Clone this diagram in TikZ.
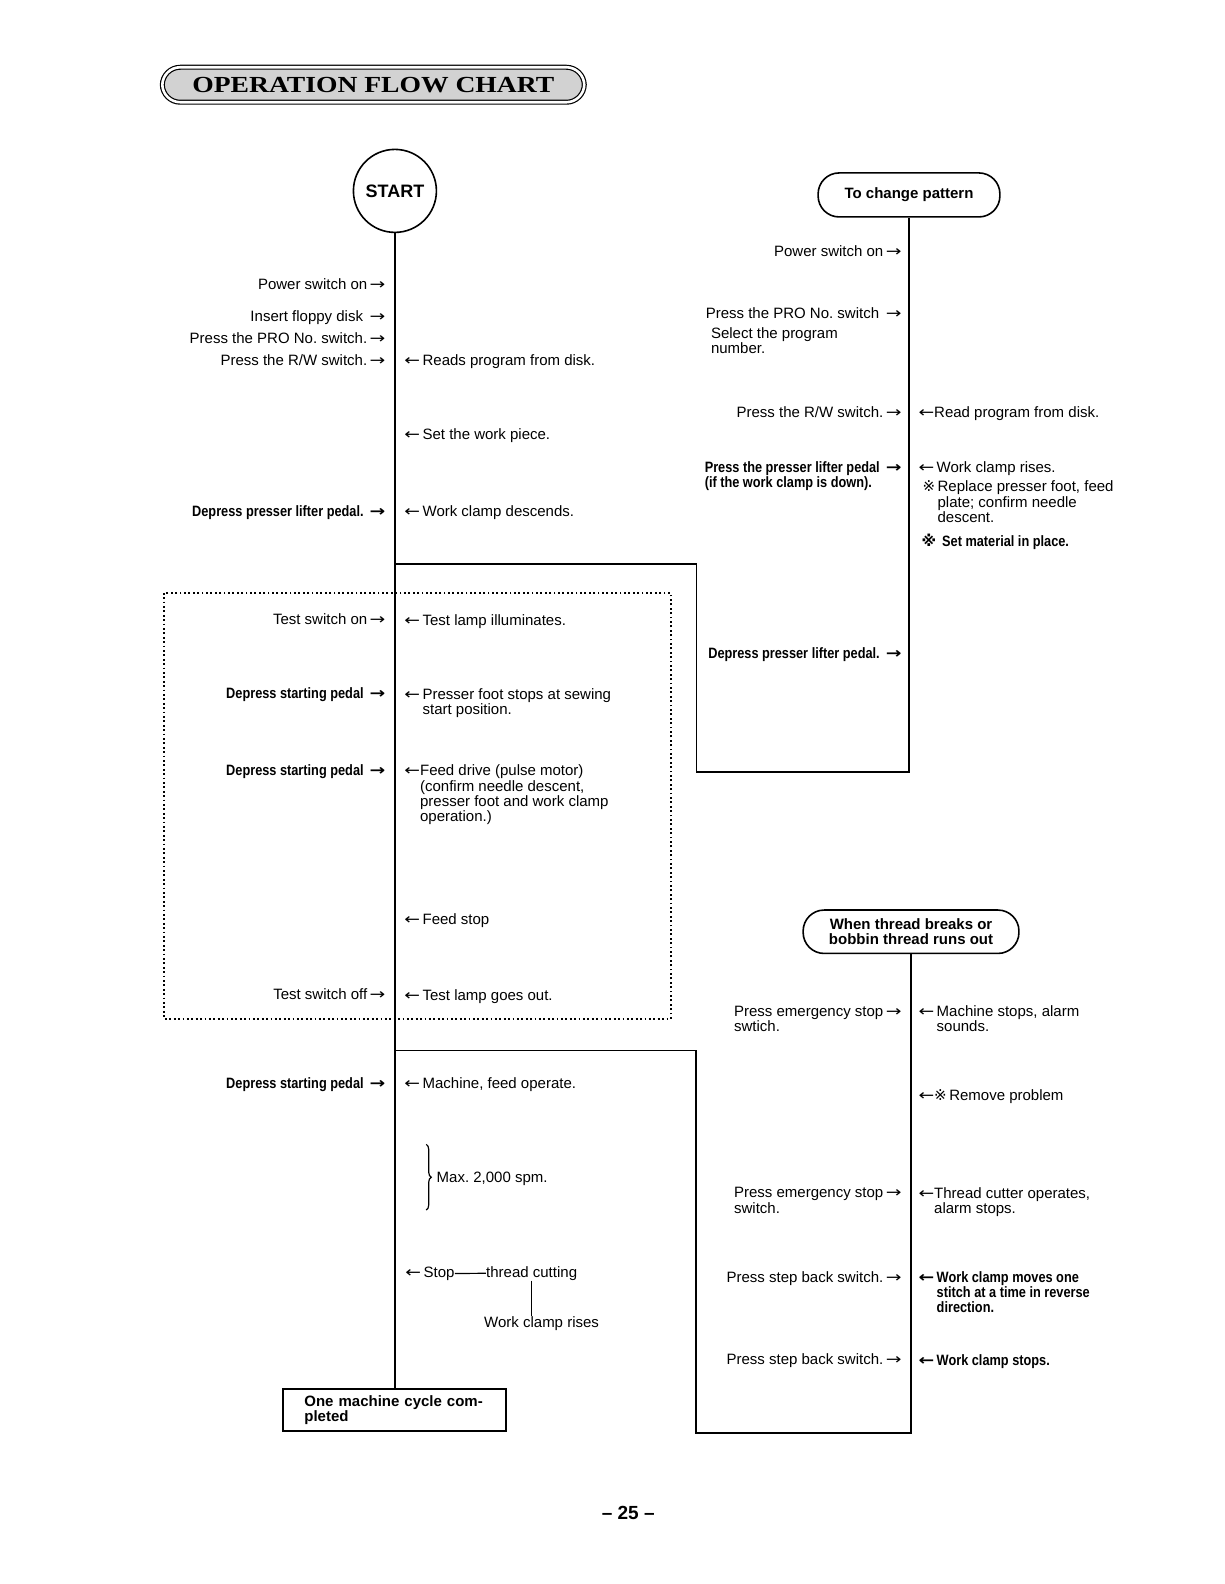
\documentclass[tikz,border=0pt]{standalone}
\usepackage{graphicx}
\usepackage{fontspec}
\setmainfont{Liberation Sans}
\newfontfamily\condfont[FakeStretch=0.85]{Liberation Sans}
\newfontfamily\symfont{DejaVu Sans}
\newfontfamily\titlefont[FakeStretch=1.2]{Liberation Serif}
\usetikzlibrary{decorations.pathreplacing}
\newcommand{\ra}{\,\scalebox{1.25}[1]{\symfont →}}
\newcommand{\la}{\scalebox{1.25}[1]{\symfont ←}\,}
\newcommand{\lat}{\scalebox{1.25}[1]{\symfont ←}}
\newcommand{\rmk}{{\symfont ※}\,}
\newcommand{\lines}[1]{\begin{tabular}[t]{@{}l@{}}#1\end{tabular}}
\begin{document}
\begin{tikzpicture}
            [
                x=0.505pt, y=-0.505pt,
                txt/.style={inner sep=0pt, font=\fontsize{7.5}{7.5}\selectfont},
                lft/.style={txt, anchor=base east},
                rgt/.style={txt, anchor=base west},
                cnd/.style={font=\fontsize{7.5}{7.5}\selectfont\condfont\bfseries},
                flow/.style={line width=0.9pt},
                stad/.style={draw, line width=0.8pt, rounded corners=10.5pt, align=center, font=\fontsize{7.5}{7.5}\selectfont\bfseries},
                ttlbox/.style={draw, line width=0.6pt, double, double distance=1.3pt, rounded corners=9pt, fill=gray!35, minimum width=211pt, minimum height=17.5pt, font=\titlefont\bfseries\fontsize{11.5}{12}\selectfont}
            ]
            \useasboundingbox (0,0) rectangle (1212,1568.3);
            % title
            \node[ttlbox] (ttl) at (369.6,83.9) {OPERATION FLOW CHART};
            % START and end of cycle
            \node[draw, circle, line width=0.8pt, minimum size=41.5pt, font=\fontsize{9}{9}\selectfont\bfseries] (start) at (391,189) {START};
            \node[draw, line width=0.8pt, minimum width=111.6pt, minimum height=21.2pt, text width=90pt, inner xsep=10.8pt, align=left, font=\fontsize{7.5}{7.5}\selectfont\bfseries] (done) at (390.5,1396) {One machine cycle com-\\pleted};
            \draw[flow] (start.south) -- (start.south |- done.north);
            % to change pattern
            \node[stad, minimum width=90.9pt, minimum height=22pt] (chg) at (900,193) {To change pattern};
            \coordinate (j1) at (391,558.7);
            \coordinate (k1) at (689.5,764);
            \draw[flow] (j1) -| (k1) -| (chg.south);
            % thread breaks
            \node[stad, minimum width=107.9pt, minimum height=21.7pt] (brk) at (902,922.5) {When thread breaks or\\bobbin thread runs out};
            \coordinate (j2) at (391,1040);
            \coordinate (k2) at (689,1419);
            \draw[flow] (j2) -| (k2) -| (brk.south);
            % test run
            \draw[dash pattern=on 0.9pt off 1.3pt, line width=0.9pt] (162.7,587) rectangle (664,1009);
            % left column
            \node[lft] (pwr) at (382,287) {Power switch on\ra};
            \node[lft] (flp) at (382,318.5) {Insert floppy disk\ \ra};
            \node[lft] (pro) at (382,340.5) {Press the PRO No.\ switch.\ra};
            \node[lft] (rw) at (382,361.4) {Press the R/W switch.\ra};
            \node[lft, cnd] (lift) at (382,511) {Depress presser lifter pedal.\ \ra};
            \node[lft] (tson) at (382,618) {Test switch on\ra};
            \node[lft, cnd] (sp1) at (382,692) {Depress starting pedal\ \ra};
            \node[lft, cnd] (sp2) at (382,768) {Depress starting pedal\ \ra};
            \node[lft] (tsoff) at (382,990) {Test switch off\ra};
            \node[lft, cnd] (sp3) at (382,1078) {Depress starting pedal\ \ra};
            % main results
            \node[rgt] (rd) at (400,361.4) {\la Reads program from disk.};
            \node[rgt] (set) at (400,435.5) {\la Set the work piece.};
            \node[rgt] (dsc) at (400,511) {\la Work clamp descends.};
            \node[rgt] (lamp) at (400,619) {\la Test lamp illuminates.};
            \node[rgt] (pf) at (400,692.5) {\la\lines{Presser foot stops at sewing\\start position.}};
            \node[rgt] (fd) at (400,768) {\lat\lines{Feed drive (pulse motor)\\(confirm needle descent,\\presser foot and work clamp\\operation.)}};
            \node[rgt] (fs) at (400,915.5) {\la Feed stop};
            \node[rgt] (out) at (400,991) {\la Test lamp goes out.};
            \node[rgt] (run) at (400,1078) {\la Machine, feed operate.};
            \draw[line width=0.6pt, decorate, decoration={brace, amplitude=2.5pt}] (422,1133) -- (422,1198);
            \node[rgt] (max) at (432,1171) {Max.\ 2,000 spm.};
            \node[rgt] (stop) at (401,1264.5) {\la Stop};
            \node[rgt] (cut) at (481,1264.5) {thread cutting};
            \node[rgt] (wcr) at (479,1314.5) {Work clamp rises};
            \draw[line width=0.6pt] (stop.east) -- (cut.west);
            \draw[line width=0.6pt] (cut.south) -- (cut.south |- wcr.north);
            % change pattern column
            \node[lft] (pwr2) at (893,254) {Power switch on\ra};
            \node[lft] (pro2) at (893,315) {Press the PRO No.\ switch\ \ra};
            \node[rgt] (sel) at (703.6,335) {\lines{Select the program\\number.}};
            \node[lft] (rw2) at (893,413) {Press the R/W switch.\ra};
            \node[lft, cnd] (lift2) at (893,467.5) {\lines{Press the presser lifter pedal\ \ra\\(if the work clamp is down).}};
            \node[lft, cnd] (lift3) at (893,651.5) {Depress presser lifter pedal.\ \ra};
            \node[rgt] (rd2) at (909,413) {\lat Read program from disk.};
            \node[rgt] (rise) at (909,468) {\la Work clamp rises.};
            \node[rgt] (rpl) at (913,487) {\rmk\lines{Replace presser foot, feed\\plate; confirm needle\\descent.}};
            \node[rgt, cnd] (mat) at (912,541) {\rmk\ Set material in place.};
            % thread break column
            \node[lft] (emg1) at (893,1006.5) {\lines{Press emergency stop\ra\\swtich.}};
            \node[lft] (emg2) at (893,1186) {\lines{Press emergency stop\ra\\switch.}};
            \node[lft] (sb1) at (893,1269.5) {Press step back switch.\ra};
            \node[lft] (sb2) at (893,1350.5) {Press step back switch.\ra};
            \node[rgt] (alm) at (909,1006.5) {\la\lines{Machine stops, alarm\\sounds.}};
            \node[rgt] (rem) at (909,1089.5) {\lat\rmk Remove problem};
            \node[rgt] (cutr) at (909,1186.5) {\lat\lines{Thread cutter operates,\\alarm stops.}};
            \node[rgt, cnd] (rev) at (909,1269.5) {\la\lines{Work clamp moves one\\stitch at a time in reverse\\direction.}};
            \node[rgt, cnd] (wcs) at (909,1351.5) {\la Work clamp stops.};
            % page number
            \node[font=\fontsize{9.5}{10}\selectfont\bfseries] (pg) at (622,1498) {– 25 –};
        \end{tikzpicture}
\end{document}
